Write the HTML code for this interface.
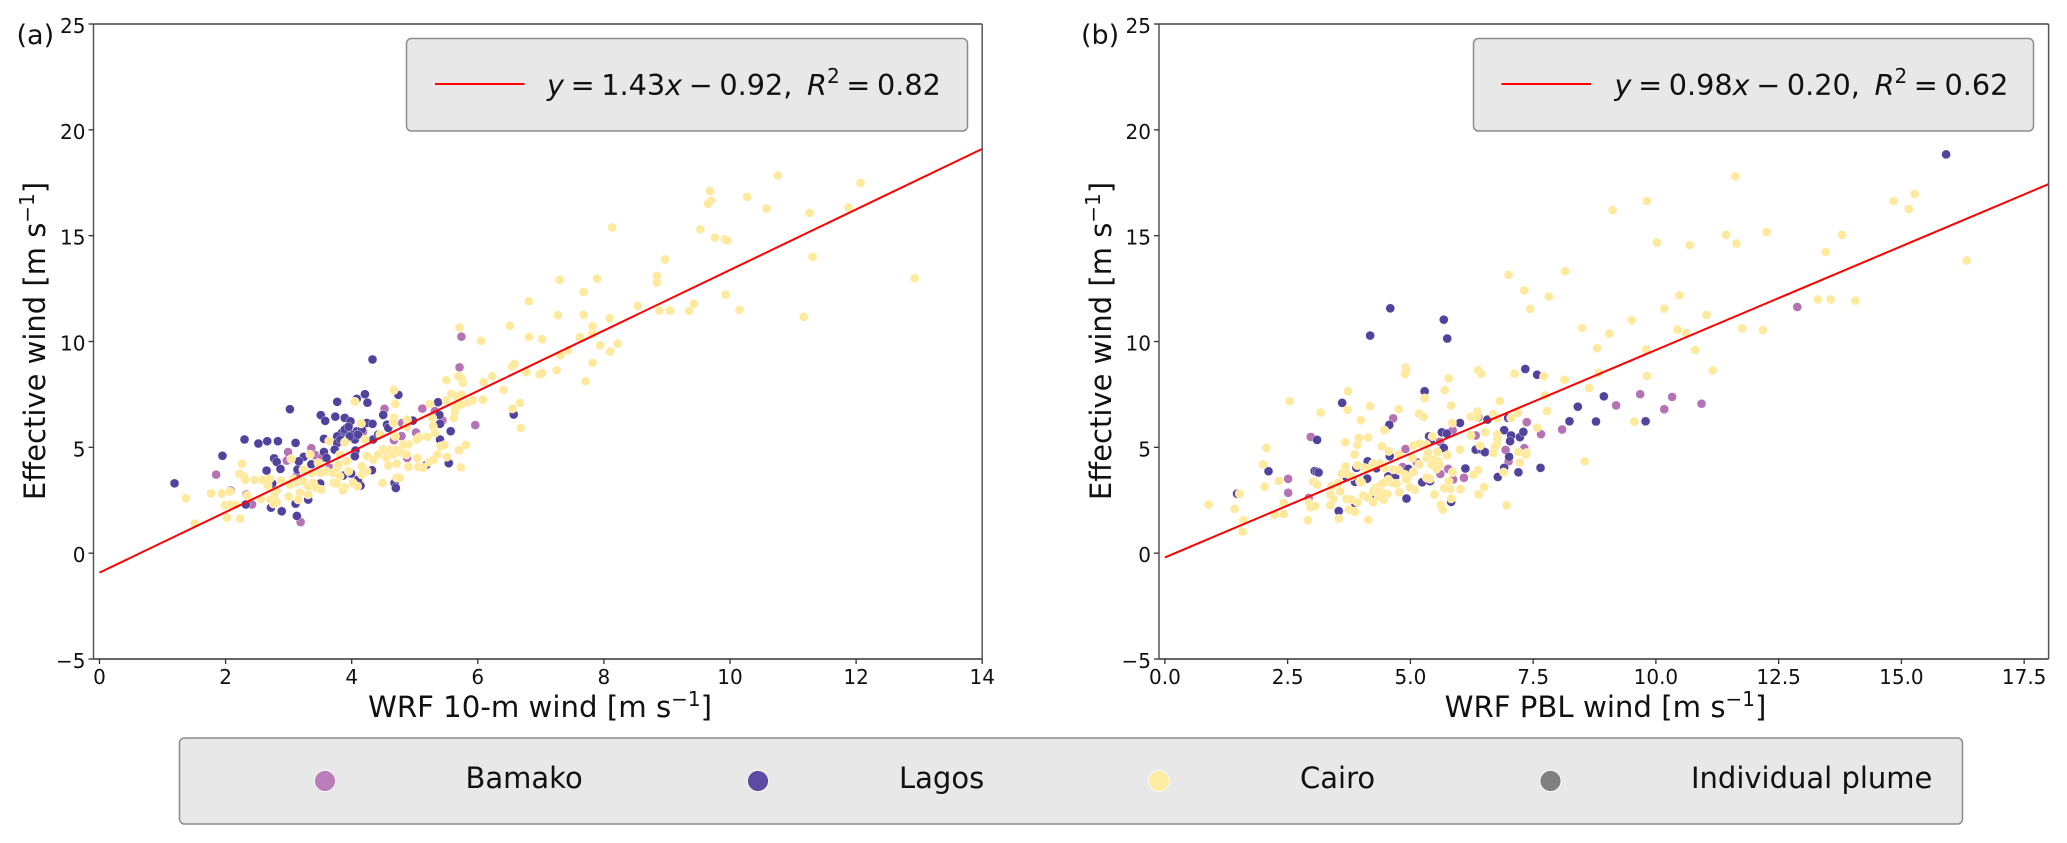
<!DOCTYPE html>
<html lang="en">
<head>
<meta charset="utf-8">
<title>Effective wind vs WRF wind</title>
<style>
html,body{margin:0;padding:0;background:#fff;}
svg{display:block;font-family:"DejaVu Sans","Liberation Sans",sans-serif;}
text{fill:#111;}
</style>
</head>
<body>
<svg id="chart" xmlns="http://www.w3.org/2000/svg" width="2067" height="843" viewBox="0 0 2067 843">
  <rect x="0" y="0" width="2067" height="843" fill="#fff"/>
  <g id="panel-a">
    <text x="16.5" y="44" font-size="27">(a)</text>
    <text x="540" y="717" font-size="29.2" text-anchor="middle">WRF 10-m wind [m s<tspan dy="-11" font-size="20">−1</tspan><tspan dy="11">]</tspan></text>
    <text transform="translate(45,341) rotate(-90)" font-size="29" text-anchor="middle">Effective wind [m s<tspan dy="-11" font-size="20">−1</tspan><tspan dy="11">]</tspan></text>
  </g>
  <g id="panel-b">
    <text x="1081" y="44" font-size="27">(b)</text>
    <text x="1605.5" y="717" font-size="29.2" text-anchor="middle">WRF PBL wind [m s<tspan dy="-11" font-size="20">−1</tspan><tspan dy="11">]</tspan></text>
    <text transform="translate(1111,341) rotate(-90)" font-size="29" text-anchor="middle">Effective wind [m s<tspan dy="-11" font-size="20">−1</tspan><tspan dy="11">]</tspan></text>
  </g>
  <g id="overlay">
    <g>
      <rect x="406.5" y="38.5" width="561" height="92.5" rx="5" fill="#e8e8e8" stroke="#8c8c8c" stroke-width="1.5"/>
      <line x1="435" y1="84" x2="524.5" y2="84" stroke="#ff0000" stroke-width="2"/>
      <text x="547" y="95" font-size="28.7" word-spacing="-2.5"><tspan font-style="italic">y</tspan> = 1.43<tspan font-style="italic">x</tspan> − 0.92, <tspan font-style="italic" dx="8">R</tspan><tspan dy="-12" font-size="20">2</tspan><tspan dy="12"> = 0.82</tspan></text>
    </g>
    <g>
      <rect x="1473.5" y="38.5" width="560" height="92.5" rx="5" fill="#e8e8e8" stroke="#8c8c8c" stroke-width="1.5"/>
      <line x1="1501.5" y1="84" x2="1591" y2="84" stroke="#ff0000" stroke-width="2"/>
      <text x="1614.5" y="95" font-size="28.7" word-spacing="-2.5"><tspan font-style="italic">y</tspan> = 0.98<tspan font-style="italic">x</tspan> − 0.20, <tspan font-style="italic" dx="8">R</tspan><tspan dy="-12" font-size="20">2</tspan><tspan dy="12"> = 0.62</tspan></text>
    </g>
    <g>
      <rect x="179.5" y="738" width="1783" height="86" rx="5" fill="#e8e8e8" stroke="#8c8c8c" stroke-width="1.5"/>
      <circle cx="325" cy="781" r="10.5" fill="#b97ebb" stroke="#fff" stroke-width="0.8"/>
      <text x="465.5" y="788" font-size="29">Bamako</text>
      <circle cx="758" cy="781" r="10.5" fill="#5b4ba3" stroke="#fff" stroke-width="0.8"/>
      <text x="899" y="788" font-size="29">Lagos</text>
      <circle cx="1159" cy="781" r="10.5" fill="#feeca3" stroke="#fff" stroke-width="0.8"/>
      <text x="1300" y="788" font-size="29">Cairo</text>
      <circle cx="1550.5" cy="781" r="10.5" fill="#808080" stroke="#fff" stroke-width="0.8"/>
      <text x="1691" y="788" font-size="29">Individual plume</text>
    </g>
  </g>
</svg>
<script>
const yTicks = [-5, 0, 5, 10, 15, 20, 25];
const xTicksA = [0, 2, 4, 6, 8, 10, 12, 14];
const xTicksB = [0, 2.5, 5, 7.5, 10, 12.5, 15, 17.5];
const xTickLabelsA = ['0', '2', '4', '6', '8', '10', '12', '14'];
const xTickLabelsB = ['0.0', '2.5', '5.0', '7.5', '10.0', '12.5', '15.0', '17.5'];
const yTickLabels = ['−5', '0', '5', '10', '15', '20', '25'];
const fitA = [1.43, -0.92];
const fitB = [0.98, -0.20];
const fitRangeA = [0, 14];
const fitRangeB = [0, 18];

const bamakoA = [[1.85,3.71],[2.08,2.96],[2.42,2.3],[3.19,1.47],[2.99,4.78],[2.97,4.37],[3.36,4.96],[3.42,4.63],[4.18,5.73],[4.52,6.82],[5.12,6.83],[5.32,6.71],[5.44,6.27],[5.71,8.78],[5.96,6.05],[4.79,5.53],[4.67,5.34],[5.02,5.7],[4.88,4.5],[3.65,4.03],[3.52,4.5],[5.74,10.23],[4.80,6.15],[3.12,3.63],[2.33,2.77]];

const lagosA = [[1.19,3.30],[1.95,4.60],[2.30,5.37],[2.52,5.18],[2.66,5.29],[2.83,5.29],[3.11,5.21],[3.02,6.80],[4.33,9.15],[3.77,7.15],[4.08,7.29],[4.21,7.51],[4.25,7.11],[4.74,7.48],[3.51,6.52],[3.58,6.25],[3.74,6.45],[3.89,6.39],[3.98,6.23],[4.24,6.15],[4.33,6.11],[4.50,6.53],[4.56,6.07],[4.58,5.92],[3.92,5.92],[3.84,5.68],[3.77,5.52],[4.08,5.76],[4.16,5.84],[4.0,5.6],[3.89,5.84],[4.05,5.37],[3.77,5.21],[3.73,4.89],[3.97,5.52],[4.1,5.6],[3.95,5.97],[3.82,5.37],[3.56,5.40],[3.56,4.78],[3.60,4.50],[2.77,4.48],[2.81,4.31],[2.87,3.98],[2.65,3.90],[3.24,4.55],[3.16,4.34],[3.14,3.95],[2.74,3.29],[2.32,2.30],[2.72,2.15],[2.89,1.98],[3.13,1.76],[3.11,2.34],[3.31,2.53],[3.50,3.29],[4.14,3.19],[4.10,3.47],[3.99,3.76],[3.86,3.66],[4.32,3.92],[4.68,3.32],[4.70,3.08],[5.19,4.18],[5.54,4.25],[5.40,5.37],[5.57,5.76],[5.39,6.53],[5.37,7.13],[5.40,6.11],[4.97,6.26],[6.57,6.55],[4.06,4.85],[4.50,4.9],[4.34,5.37],[4.42,5.6],[3.36,4.2],[4.05,4.58]];

const cairoA = [[1.37,2.60],[1.51,1.40],[1.77,2.83],[1.94,2.82],[2.07,2.91],[1.99,2.26],[2.08,2.30],[2.16,2.28],[2.02,1.67],[2.23,1.63],[2.26,4.22],[2.22,3.75],[2.29,3.63],[2.31,3.46],[2.46,3.46],[2.59,3.46],[2.70,3.51],[2.67,3.19],[2.34,2.72],[2.56,2.56],[2.81,2.93],[2.77,2.72],[2.71,2.53],[2.81,2.41],[2.76,2.34],[3.0,2.67],[3.18,2.85],[3.15,2.53],[3.31,2.77],[2.88,3.43],[3.02,3.24],[3.13,3.35],[3.23,3.40],[3.31,3.16],[3.39,3.32],[3.44,3.08],[3.52,3.0],[3.07,3.51],[3.23,3.95],[3.34,4.66],[3.04,4.45],[3.47,4.26],[3.36,3.79],[3.5,3.79],[3.6,3.87],[3.71,3.79],[3.77,4.03],[3.81,3.63],[3.71,3.32],[3.76,3.29],[3.89,3.11],[3.86,2.97],[4.02,3.32],[4.09,3.16],[4.16,3.71],[4.24,3.87],[4.16,4.11],[3.95,3.87],[3.92,4.34],[3.81,4.66],[3.79,4.19],[4.24,4.58],[4.34,4.42],[4.42,4.66],[4.50,4.89],[4.55,4.5],[4.61,4.89],[4.66,4.66],[4.71,4.89],[4.79,4.74],[4.87,4.66],[4.9,5.13],[4.82,5.13],[4.58,4.14],[4.71,4.23],[4.9,4.08],[5.06,4.08],[5.13,4.04],[5.04,4.5],[5.23,4.31],[5.30,4.42],[5.36,4.66],[5.41,5.05],[5.47,5.11],[5.51,4.55],[5.70,4.86],[5.81,5.11],[5.73,4.06],[4.49,3.32],[4.71,3.56],[4.76,3.56],[3.89,5.24],[3.64,5.30],[4.05,7.16],[4.15,6.12],[4.67,7.70],[4.69,7.05],[4.67,6.39],[4.66,6.15],[4.88,6.31],[4.87,5.97],[5.07,5.48],[5.2,5.49],[5.03,5.37],[4.69,5.52],[4.21,5.37],[4.45,5.60],[5.24,7.05],[5.28,6.39],[5.29,6.0],[5.32,5.68],[5.5,7.21],[5.58,7.52],[5.66,7.41],[5.74,7.49],[5.64,6.94],[5.62,6.39],[5.64,6.71],[5.74,7.02],[5.85,7.13],[5.92,7.22],[6.08,7.25],[6.09,8.08],[6.23,8.36],[5.76,8.05],[5.74,8.28],[5.69,8.36],[5.5,8.17],[6.41,7.71],[6.55,6.83],[6.54,8.83],[6.58,8.94],[6.67,7.10],[6.68,5.92],[10.76,17.85],[12.07,17.49],[9.68,17.11],[9.70,16.66],[9.65,16.5],[10.27,16.83],[10.58,16.28],[11.26,16.07],[11.88,16.32],[8.13,15.39],[9.53,15.3],[9.76,14.91],[9.92,14.83],[9.96,14.77],[8.97,13.88],[11.31,14.0],[7.3,12.91],[7.89,12.97],[8.84,13.1],[8.84,12.78],[12.93,12.99],[7.68,12.34],[6.81,11.9],[9.93,12.21],[7.27,11.24],[7.68,11.26],[8.54,11.68],[8.88,11.46],[9.05,11.46],[9.35,11.44],[9.43,11.78],[10.15,11.49],[11.17,11.16],[8.09,11.1],[6.51,10.74],[5.71,10.66],[7.82,10.72],[6.81,10.22],[7.02,10.11],[6.05,10.03],[7.82,10.36],[7.62,10.2],[7.94,9.82],[8.22,9.9],[8.1,9.52],[7.43,9.58],[7.31,9.35],[7.82,8.99],[6.77,8.55],[6.98,8.44],[7.02,8.51],[7.25,8.64],[7.71,8.12]];

const bamakoB = [[4.65,6.37],[2.97,5.49],[2.51,3.51],[2.51,2.85],[2.93,2.61],[4.90,4.92],[4.84,4.07],[5.13,4.30],[5.77,3.98],[5.61,3.74],[5.87,3.48],[6.09,3.56],[5.60,5.26],[5.86,5.81],[6.33,5.56],[6.94,4.88],[7.0,4.34],[7.32,4.96],[7.37,6.19],[7.66,5.62],[8.09,5.84],[12.88,11.63],[9.68,7.51],[10.33,7.38],[9.19,6.98],[10.17,6.8],[10.93,7.06]];

const lagosB = [[2.11,3.87],[1.47,2.81],[3.05,3.88],[3.09,3.85],[3.13,3.81],[3.10,5.35],[3.61,7.10],[4.57,6.06],[5.29,7.65],[3.54,1.99],[4.13,4.34],[4.12,3.52],[4.31,4.01],[3.87,3.37],[3.70,3.58],[3.87,2.37],[3.90,4.03],[4.28,2.66],[4.58,4.58],[4.55,3.63],[4.58,3.40],[4.69,3.6],[4.96,3.98],[4.92,2.58],[5.24,3.35],[5.40,3.40],[5.38,5.52],[5.41,5.29],[5.64,5.71],[5.74,5.65],[5.68,4.97],[6.01,6.15],[5.83,2.42],[6.12,4.0],[6.33,4.89],[6.45,4.89],[6.52,4.77],[6.38,6.42],[6.57,6.31],[6.99,6.39],[6.91,5.81],[7.05,5.56],[7.03,5.29],[7.23,5.48],[7.30,5.73],[7.01,4.55],[6.91,4.03],[6.78,3.60],[7.20,3.82],[7.65,4.03],[7.34,8.70],[7.58,8.43],[8.24,6.23],[8.41,6.92],[15.91,18.84],[4.59,11.57],[5.68,11.03],[4.18,10.28],[5.75,10.14],[8.94,7.41],[8.78,6.22],[9.79,6.23]];

const cairoB = [[0.89,2.29],[1.42,2.09],[1.60,1.56],[1.58,1.02],[1.52,2.81],[2.24,1.82],[2.42,1.85],[2.42,2.37],[2.03,3.14],[2.32,3.41],[2.0,4.19],[2.07,4.97],[2.54,7.18],[3.17,6.64],[3.73,7.65],[3.72,6.77],[4.18,6.94],[3.99,6.28],[4.76,6.80],[4.47,5.81],[4.9,8.78],[4.92,8.64],[4.89,8.47],[5.78,8.26],[5.70,7.70],[5.29,7.32],[5.83,6.97],[6.38,8.64],[6.44,8.48],[7.12,8.48],[7.72,8.36],[8.13,8.2],[7.74,7.45],[7.78,6.71],[6.82,7.18],[5.18,6.59],[5.27,6.44],[5.85,6.15],[6.23,6.45],[6.36,6.69],[6.36,6.44],[6.69,6.56],[6.77,6.39],[7.19,6.63],[7.05,6.39],[6.52,5.71],[6.23,5.56],[6.77,5.60],[6.77,5.37],[6.76,5.13],[6.72,5.02],[7.58,5.93],[6.69,4.74],[7.2,4.78],[7.37,4.74],[7.35,4.66],[7.23,4.28],[6.42,5.08],[6.01,4.89],[6.9,3.82],[6.38,3.92],[6.29,3.71],[6.5,3.13],[6.39,2.78],[6.02,3.02],[6.96,2.26],[5.83,2.58],[5.62,2.29],[5.66,2.06],[5.69,3.08],[5.81,3.04],[5.78,3.40],[5.86,3.82],[5.40,3.51],[5.49,2.77],[5.09,3.0],[4.99,3.11],[4.77,2.88],[5.06,3.84],[4.96,3.63],[4.89,3.71],[4.72,3.29],[4.62,3.32],[4.55,3.48],[4.65,3.95],[4.76,3.92],[4.92,3.48],[5.33,3.56],[5.18,4.19],[5.33,4.50],[5.47,4.42],[5.57,4.34],[5.59,4.15],[5.43,4.19],[5.53,3.98],[5.75,4.63],[5.55,4.78],[5.36,4.74],[5.04,4.5],[4.76,4.66],[4.56,4.82],[5.06,5.08],[5.19,5.17],[5.33,5.13],[5.45,5.52],[4.42,5.05],[3.86,4.66],[3.92,5.11],[3.67,5.24],[3.95,5.44],[4.14,5.47],[3.68,4.1],[3.92,4.15],[3.6,3.76],[3.7,3.76],[3.8,3.63],[3.97,3.39],[4.0,3.35],[4.24,4.23],[4.38,4.23],[4.47,4.03],[4.07,4.03],[4.18,4.03],[3.53,3.32],[3.02,3.37],[3.1,3.24],[3.39,3.16],[3.57,2.92],[3.37,2.77],[3.43,2.56],[3.37,2.26],[3.7,2.56],[3.8,2.53],[3.92,2.4],[4.04,2.72],[4.14,2.61],[4.24,2.4],[4.35,2.69],[4.46,2.53],[4.53,2.8],[4.28,3.08],[4.38,3.19],[4.45,3.32],[4.24,2.92],[4.35,2.92],[4.45,2.81],[2.91,1.56],[2.94,2.37],[2.97,2.17],[3.06,2.22],[3.54,1.63],[3.75,2.06],[3.87,1.95],[4.14,1.57],[11.62,17.8],[14.84,16.63],[15.27,16.97],[15.15,16.25],[9.82,16.64],[9.12,16.2],[16.33,13.82],[12.25,15.17],[11.43,15.04],[11.64,14.63],[10.02,14.67],[10.69,14.55],[13.79,15.04],[13.46,14.23],[8.15,13.32],[7.0,13.15],[7.32,12.41],[7.82,12.12],[7.44,11.54],[10.48,12.18],[10.17,11.55],[11.03,11.25],[9.51,11.0],[13.3,11.99],[13.56,11.99],[14.06,11.93],[8.5,10.64],[9.05,10.37],[10.44,10.56],[10.61,10.4],[11.76,10.62],[12.18,10.54],[8.8,9.68],[9.8,9.62],[10.8,9.6],[11.16,8.64],[9.82,8.37],[8.84,8.52],[8.14,8.19],[8.64,7.8],[9.56,6.22],[8.55,4.34]];

const SVG_NS = 'http://www.w3.org/2000/svg';
const PLOT_TOP = 24;
const PLOT_BOTTOM = 659;
const yScale = v => PLOT_BOTTOM - (v + 5) * (PLOT_BOTTOM - PLOT_TOP) / 30;
const xScaleA = v => 99.5 + v * 63.05;
const xScaleB = v => 1164.9 + v * 49.1;

function addLine(parent, name, x1, y1, x2, y2, stroke, width) {
  const el = document.createElementNS(SVG_NS, 'line');
  
  
  el.setAttribute('x1', x1);
  el.setAttribute('y1', y1);
  el.setAttribute('x2', x2);
  el.setAttribute('y2', y2);
  el.setAttribute('stroke', stroke);
  el.setAttribute('stroke-width', width);
  parent.appendChild(el);
}

function addLabel(parent, name, label, x, y, anchor) {
  const el = document.createElementNS(SVG_NS, 'text');
  
  
  el.setAttribute('x', x);
  el.setAttribute('y', y);
  el.setAttribute('font-size', '20');
  el.setAttribute('text-anchor', anchor);
  el.textContent = label;
  parent.appendChild(el);
}

function addPoints(parent, name, points, xScale, fill) {
  points.forEach(function (p) {
    const el = document.createElementNS(SVG_NS, 'circle');
    
    
    el.setAttribute('cx', xScale(p[0]));
    el.setAttribute('cy', yScale(p[1]));
    el.setAttribute('r', '4.5');
    el.setAttribute('fill', fill);
    el.setAttribute('stroke', '#ffffff');
    el.setAttribute('stroke-width', '0.35');
    parent.appendChild(el);
  });
}

function drawPanel(id, prefix, left, right, xScale, xTicks, xLabels, fit, fitRange, series) {
  const g = document.getElementById(id);
  addPoints(g, prefix + '-bamako-point', series[0], xScale, '#b474b4');
  addPoints(g, prefix + '-lagos-point', series[1], xScale, '#51439c');
  addPoints(g, prefix + '-cairo-point', series[2], xScale, '#fee99c');
  addLine(g, prefix + '-fit-line', xScale(fitRange[0]), yScale(fit[0] * fitRange[0] + fit[1]), xScale(fitRange[1]), yScale(fit[0] * fitRange[1] + fit[1]), '#ff0000', 2);
  addLine(g, prefix + '-spine-top', left, PLOT_TOP, right, PLOT_TOP, '#444', 1.5);
  addLine(g, prefix + '-spine-bottom', left, PLOT_BOTTOM, right, PLOT_BOTTOM, '#333', 1.5);
  addLine(g, prefix + '-spine-left', left, PLOT_TOP, left, PLOT_BOTTOM, '#555', 1.5);
  addLine(g, prefix + '-spine-right', right, PLOT_TOP, right, PLOT_BOTTOM, '#555', 1.5);
  xTicks.forEach(function (t, i) {
    addLine(g, prefix + '-x-tick', xScale(t), PLOT_BOTTOM, xScale(t), PLOT_BOTTOM + 5, '#333', 1.3);
    addLabel(g, prefix + '-x-tick-label', xLabels[i], xScale(t), 684, 'middle');
  });
  yTicks.forEach(function (t, i) {
    addLine(g, prefix + '-y-tick', left - 5, yScale(t), left, yScale(t), '#333', 1.3);
    addLabel(g, prefix + '-y-tick-label', yTickLabels[i], left - 8, yScale(t) + 9, 'end');
  });
}

drawPanel('panel-a', 'panel-a', 93.5, 982.2, xScaleA, xTicksA, xTickLabelsA, fitA, fitRangeA, [bamakoA, lagosA, cairoA]);
drawPanel('panel-b', 'panel-b', 1159, 2048.6, xScaleB, xTicksB, xTickLabelsB, fitB, fitRangeB, [bamakoB, lagosB, cairoB]);
</script>
</body>
</html>
